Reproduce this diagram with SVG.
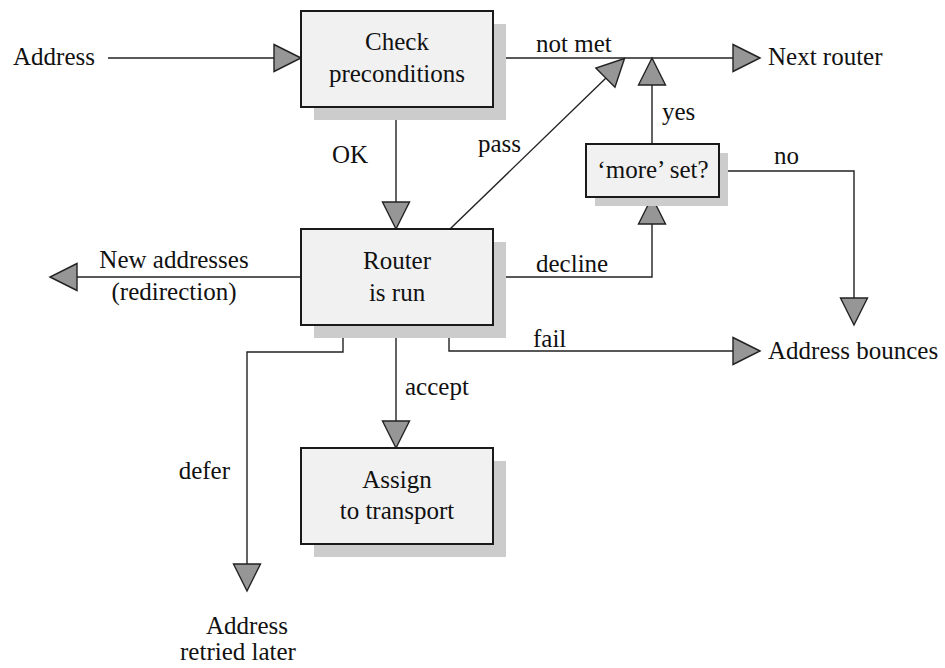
<svg xmlns="http://www.w3.org/2000/svg" width="945" height="668" viewBox="0 0 945 668" font-family="'Liberation Serif', Tinos, 'DejaVu Serif', serif">
  <style>
    .shadow { fill: #cccccc; }
    .box { fill: #f1f1f1; stroke: #1a1a1a; stroke-width: 2; }
    .line { fill: none; stroke: #222222; stroke-width: 1.4; }
    .head { fill: #969696; stroke: #222222; stroke-width: 1.4; stroke-linejoin: miter; }
    .t { font-family: 'Liberation Serif', Tinos, 'DejaVu Serif', serif; font-size: 25px; fill: #111111; }
    .c { text-anchor: middle; }
    .e { text-anchor: end; }
  </style>
  <defs>
    <!-- arrowhead pointing right, tip at origin -->
    <path id="head" class="head" d="M0,0 L-27,-13.5 L-27,13.5 Z"/>
  </defs>

  <g id="connectors">
    <!-- Address -> Check preconditions -->
    <line class="line" x1="108" y1="58" x2="274" y2="58"/>
    <use href="#head" transform="translate(301,58)"/>
    <!-- not met -> Next router -->
    <line class="line" x1="493" y1="58" x2="733" y2="58"/>
    <use href="#head" transform="translate(760,58)"/>
    <!-- OK -->
    <line class="line" x1="396" y1="107" x2="396" y2="202"/>
    <use href="#head" transform="translate(396,229) rotate(90)"/>
    <!-- pass -->
    <line class="line" x1="450" y1="229" x2="606" y2="78"/>
    <use href="#head" transform="translate(624.5,58.5) rotate(-45)"/>
    <!-- yes -->
    <line class="line" x1="652" y1="144" x2="652" y2="85"/>
    <use href="#head" transform="translate(652,58) rotate(-90)"/>
    <!-- no -> Address bounces (down) -->
    <polyline class="line" points="719,171 854,171 854,298"/>
    <use href="#head" transform="translate(854,325) rotate(90)"/>
    <!-- decline -->
    <polyline class="line" points="493,277 652,277 652,224"/>
    <use href="#head" transform="translate(652,197) rotate(-90)"/>
    <!-- New addresses -->
    <line class="line" x1="301" y1="277" x2="77" y2="277"/>
    <use href="#head" transform="translate(50,277) rotate(180)"/>
    <!-- fail -->
    <polyline class="line" points="449,325 449,351 733,351"/>
    <use href="#head" transform="translate(760,351)"/>
    <!-- accept -->
    <line class="line" x1="396" y1="325" x2="396" y2="421"/>
    <use href="#head" transform="translate(396,448) rotate(90)"/>
    <!-- defer -->
    <polyline class="line" points="343,325 343,352 247,352 247,565"/>
    <use href="#head" transform="translate(247,591) rotate(90)"/>
  </g>

  <g id="check">
    <rect class="shadow" x="314" y="24" width="192" height="96"/>
    <rect class="box" x="301" y="11" width="192" height="96"/>
    <text class="t c" x="397" y="50">Check</text>
    <text class="t c" x="397" y="82">preconditions</text>
  </g>

  <g id="router">
    <rect class="shadow" x="314" y="242" width="192" height="96"/>
    <rect class="box" x="301" y="229" width="192" height="96"/>
    <text class="t c" x="397" y="269">Router</text>
    <text class="t c" x="397" y="301">is run</text>
  </g>

  <g id="assign">
    <rect class="shadow" x="314" y="461" width="192" height="96"/>
    <rect class="box" x="301" y="448" width="192" height="96"/>
    <text class="t c" x="397" y="488">Assign</text>
    <text class="t c" x="397" y="519">to transport</text>
  </g>

  <g id="more">
    <rect class="shadow" x="595" y="153" width="133" height="53"/>
    <rect class="box" x="586" y="144" width="133" height="53"/>
    <text class="t c" x="653" y="178">‘more’ set?</text>
  </g>

  <g id="labels">
    <text class="t" x="13" y="65">Address</text>
    <text class="t" x="768" y="65">Next router</text>
    <text class="t" x="536" y="52">not met</text>
    <text class="t" x="332" y="163">OK</text>
    <text class="t" x="478" y="152">pass</text>
    <text class="t" x="662" y="120">yes</text>
    <text class="t" x="774" y="164">no</text>
    <text class="t" x="536" y="272">decline</text>
    <text class="t c" x="174" y="268">New addresses</text>
    <text class="t c" x="174" y="300">(redirection)</text>
    <text class="t" x="533" y="347">fail</text>
    <text class="t" x="768" y="359">Address bounces</text>
    <text class="t" x="405" y="395">accept</text>
    <text class="t e" x="230" y="479">defer</text>
    <text class="t c" x="247" y="634">Address</text>
    <text class="t c" x="238" y="660">retried later</text>
  </g>
</svg>
